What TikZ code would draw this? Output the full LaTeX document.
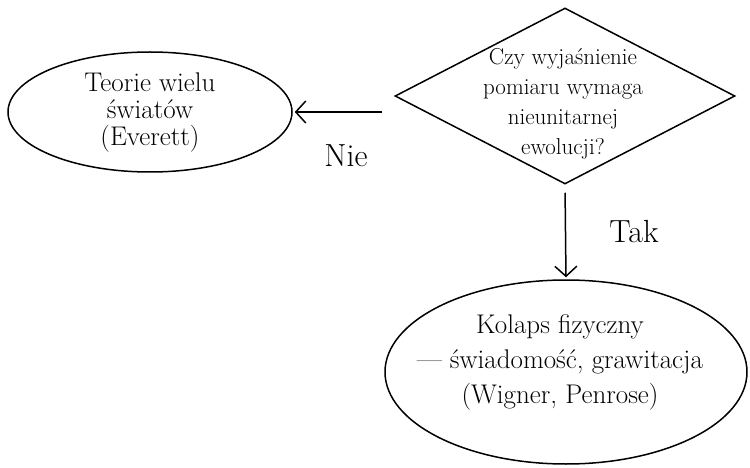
\documentclass[tikz,border=0pt]{standalone}
\usepackage{fontspec}
\usetikzlibrary{shapes.geometric,arrows.meta}
\begin{document}
\begin{tikzpicture}[x=1pt,y=-1pt,
  every node/.style={align=center},
  stroke/.style={draw=black, line width=1.5pt},
  oval/.style={stroke, ellipse, inner sep=0pt},
  decision/.style={stroke, diamond, inner sep=0pt, minimum width=340pt, minimum height=176pt},
  txt/.style={inner sep=0pt},
  link/.style={line width=1.5pt, -{Straight Barb[length=10pt,width=22pt]}},
  lbl/.style={font=\fontsize{32}{36}\selectfont}]
\useasboundingbox (0,0) rectangle (750,468);
\node[decision] (q) at (565,96) {};
\node[txt, font=\fontsize{23}{30}\selectfont] (qt) at (563,104) {Czy wyjaśnienie\\pomiaru wymaga\\nieunitarnej\\ewolucji?};
\node[oval, minimum width=284pt, minimum height=120pt] (e1) at (150,112) {};
\node[txt, font=\fontsize{27}{27}\selectfont] (e1t) at (150,113) {Teorie wielu\\światów\\(Everett)};
\node[oval, minimum width=362pt, minimum height=184pt] (e2) at (566,372) {};
\node[txt, font=\fontsize{27}{35}\selectfont] (e2t) at (560,362) {Kolaps fizyczny\\— świadomość, grawitacja\\(Wigner, Penrose)};
\draw[link, shorten <=12pt, shorten >=2pt] (q.west |- e1.east) -- (e1.east);
\draw[link, shorten <=8pt, shorten >=2pt] (q.south) -- (e2.north);
\node[lbl] (nie) at (346,156) {Nie};
\node[lbl] (tak) at (634,232) {Tak};
\end{tikzpicture}
\end{document}
